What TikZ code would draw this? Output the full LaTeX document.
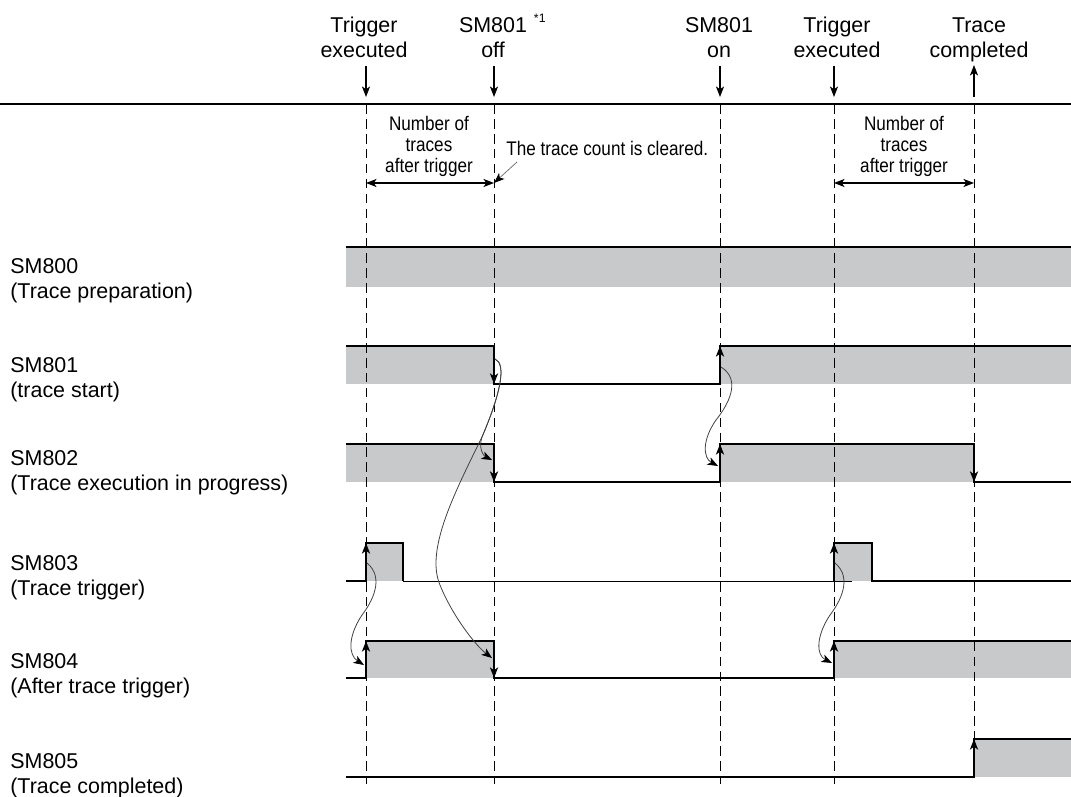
\documentclass[tikz,border=0pt]{standalone}
\usepackage{fontspec}
\usepackage{graphicx}
\setmainfont{Liberation Sans}
\usetikzlibrary{arrows.meta}
\definecolor{hiband}{RGB}{200,201,203}
\newcommand{\labfont}{\fontsize{12.2}{14.2}\selectfont}
\newcommand{\cntfont}{\fontsize{11.2}{12}\selectfont}
\newcommand{\cnd}[1]{\scalebox{0.87}[1]{#1}}
\tikzset{
  sig/.style={line width=1.1pt,line join=miter},
  band/.style={fill=hiband},
  guide/.style={line width=0.5pt,dash pattern=on 5.5pt off 3pt},
  edgearr/.style={line width=1.1pt,-{Stealth[length=6pt,width=4.6pt,inset=1.6pt]}},
  cause/.style={line width=0.45pt,black!75,-{Stealth[length=6pt,width=4.6pt,inset=1.6pt,color=black]}},
  markarr/.style={line width=0.6pt,-{Stealth[length=6pt,width=4.6pt,inset=1.6pt]}},
  dimarr/.style={line width=0.6pt,{Stealth[length=6pt,width=4.6pt,inset=1.6pt]}-{Stealth[length=6pt,width=4.6pt,inset=1.6pt]}},
  rowlab/.style={anchor=north west,align=left,font=\labfont},
  toplab/.style={anchor=north,align=center,font=\labfont},
  cntlab/.style={anchor=north,align=center,font=\cntfont}
}

\begin{document}
\begin{tikzpicture}[x=0.02cm,y=-0.02cm,every node/.style={inner sep=0pt}]
  \useasboundingbox (0,0) rectangle (1071,797);

  % events on the time line
  \node[toplab] (trig1) at (364,17) {Trigger\\executed};
  \node[toplab] (off801) at (493,17) {SM801\rlap{\hspace{4pt}\smash{\raisebox{5.5pt}{\fontsize{7}{8}\selectfont *1}}}\\off};
  \node[toplab] (on801) at (719,17) {SM801\\on};
  \node[toplab] (trig2) at (837,17) {Trigger\\executed};
  \node[toplab] (done) at (979,17) {Trace\\completed};
  \draw[line width=1.1pt] (0,104) -- (1071,104);
  \foreach \t in {366,494,720,834}
    \draw[markarr] (\t,66) -- (\t,97);
  \draw[markarr] (974,97) -- (974,65);

  % counts after trigger
  \node[cntlab] (cnt1) at (429,116) {\cnd{Number of}\\\cnd{traces}\\\cnd{after trigger}};
  \node[cntlab] (cnt2) at (904,116) {\cnd{Number of}\\\cnd{traces}\\\cnd{after trigger}};
  \node[anchor=base west,font=\cntfont] (cleared) at (506,156) {\cnd{The trace count is cleared.}};
  \coordinate (d1a) at (366,183);
  \coordinate (d1b) at (494,183);
  \coordinate (d2a) at (834,183);
  \coordinate (d2b) at (974,183);
  \coordinate (clr) at (517,162);
  \draw[dimarr] (d1a) -- (d1b);
  \draw[dimarr] (d2a) -- (d2b);
  \draw[line width=0.45pt,black!55,-{Stealth[length=6pt,width=4.6pt,inset=1.6pt,color=black]}] (clr) -- (d1b);

  % signal names
  \node[rowlab] (lab800) at (10,258) {SM800\\(Trace preparation)};
  \node[rowlab] (lab801) at (10,357) {SM801\\(trace start)};
  \node[rowlab] (lab802) at (10,450) {SM802\\(Trace execution in progress)};
  \node[rowlab] (lab803) at (10,555) {SM803\\(Trace trigger)};
  \node[rowlab] (lab804) at (10,653) {SM804\\(After trace trigger)};
  \node[rowlab] (lab805) at (10,753) {SM805\\(Trace completed)};

  % on-states
  \fill[band] (346,247) rectangle (1071,287);
  \fill[band] (346,346) rectangle (494,384);
  \fill[band] (720,346) rectangle (1071,384);
  \fill[band] (346,444) rectangle (494,482);
  \fill[band] (720,444) rectangle (974,482);
  \fill[band] (366,543) rectangle (403,581);
  \fill[band] (834,543) rectangle (872,581);
  \fill[band] (366,641) rectangle (494,678);
  \fill[band] (834,641) rectangle (1071,678);
  \fill[band] (974,739) rectangle (1071,777);

  % guides
  \foreach \t in {366,494,720,834}
    \draw[guide] (\t,104) -- (\t,784);
  \draw[guide] (974,104) -- (974,739);

  % waveforms
  \draw[sig] (346,247) -- (1071,247);
  \draw[sig] (346,346) -- (494,346) -- (494,384) -- (720,384) -- (720,346) -- (1071,346);
  \draw[sig] (346,444) -- (494,444) -- (494,482) -- (720,482) -- (720,444) -- (974,444) -- (974,482) -- (1071,482);
  \draw[sig] (346,581) -- (366,581) -- (366,543) -- (403,543) -- (403,581);
  \draw[line width=0.5pt] (403,581) -- (852,581);
  \draw[sig] (834,581) -- (834,543) -- (872,543) -- (872,581) -- (1071,581);
  \draw[sig] (346,678) -- (366,678) -- (366,641) -- (494,641) -- (494,678) -- (834,678) -- (834,641) -- (1071,641);
  \draw[sig] (346,777) -- (974,777) -- (974,739) -- (1071,739);

  % edge arrows
  \draw[edgearr] (494,352) -- (494,384);
  \draw[edgearr] (720,378) -- (720,346);
  \draw[edgearr] (494,450) -- (494,482);
  \draw[edgearr] (720,476) -- (720,444);
  \draw[edgearr] (974,450) -- (974,482);
  \draw[edgearr] (366,575) -- (366,543);
  \draw[edgearr] (834,575) -- (834,543);
  \draw[edgearr] (366,672) -- (366,641);
  \draw[edgearr] (494,647) -- (494,678);
  \draw[edgearr] (834,672) -- (834,641);
  \draw[edgearr] (974,771) -- (974,739);

  % what causes what
  \draw[cause] (495,359) .. controls (507,364) and (500,395) .. (482,437)
    .. controls (478,449) and (484,456) .. (492,460);
  \draw[cause] (495,359) .. controls (507,364) and (500,395) .. (482,437)
    .. controls (455,492) and (425,550) .. (440,585)
    .. controls (452,615) and (475,645) .. (492,658);
  \draw[cause] (721,367) .. controls (742,380) and (728,405) .. (716,420)
    .. controls (702,440) and (703,458) .. (718,466);
  \draw[cause] (367,563) .. controls (385,578) and (372,602) .. (362,615)
    .. controls (348,636) and (348,655) .. (364,665);
  \draw[cause] (835,563) .. controls (853,578) and (840,602) .. (830,615)
    .. controls (816,636) and (816,655) .. (832,663);
\end{tikzpicture}
\end{document}
